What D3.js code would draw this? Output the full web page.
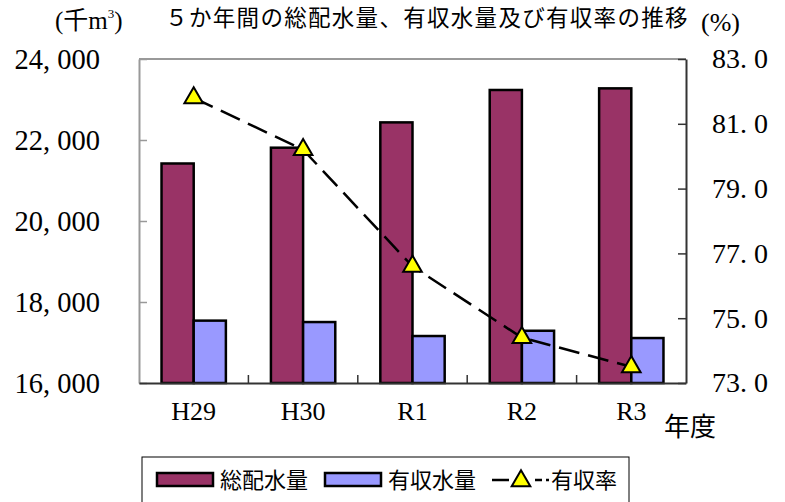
<!DOCTYPE html>
<html>
<head>
<meta charset="utf-8">
<script src="https://cdn.jsdelivr.net/npm/d3@7"></script>
<style>
  body { margin: 0; background: #fff; }
</style>
</head>
<body>
<svg id="chart"></svg>
<script>
const years = ["H29", "H30", "R1", "R2", "R3"];
// 総配水量 (千m3)
const totalWater = [21420, 21810, 22435, 23235, 23275];
// 有収水量 (千m3)
const billedWater = [17540, 17505, 17160, 17290, 17110];
// 有収率 (%)
const billedRate = [81.8, 80.2, 76.6, 74.4, 73.5];
const leftTicks = [16000, 18000, 20000, 22000, 24000];
const rightTicks = [73, 75, 77, 79, 81, 83];

const width = 785, height = 502;
const margin = { top: 59, right: 99, bottom: 119, left: 139 };
const maroon = "#993366", lilac = "#9999ff";
const serif = "'Liberation Serif', 'DejaVu Serif', serif";
const jp = "'Noto Sans CJK JP', sans-serif";

const svg = d3.select("#chart").attr("width", width).attr("height", height);

const x = d3.scaleBand().domain(years)
    .range([margin.left, width - margin.right]);
const xSub = d3.scaleBand().domain(["total", "billed"])
    .range([0, x.bandwidth()]).paddingInner(0).paddingOuter(0.7);
const yL = d3.scaleLinear().domain([16000, 24000])
    .range([height - margin.bottom, margin.top]);
const yR = d3.scaleLinear().domain([73, 83])
    .range([height - margin.bottom, margin.top]);

const fmtL = d => d3.format(",")(d).replace(",", ", ");
const fmtR = d => d3.format(".1f")(d).replace(".", ". ");

// top border
svg.append("line")
    .attr("x1", margin.left).attr("x2", width - margin.right)
    .attr("y1", margin.top).attr("y2", margin.top)
    .attr("stroke", "#999").attr("stroke-width", 2);

// left axis
svg.append("g")
    .attr("transform", `translate(${margin.left},0)`)
    .call(d3.axisLeft(yL).tickValues(leftTicks).tickFormat(fmtL)
        .tickSizeInner(-8).tickSizeOuter(0).tickPadding(39))
    .call(g => g.select(".domain").attr("stroke", "#999").attr("stroke-width", 2))
    .call(g => g.selectAll(".tick line").attr("stroke", "#999").attr("stroke-width", 1.5))
    .call(g => g.selectAll(".tick text").attr("font-family", serif)
        .attr("font-size", 28.5).attr("fill", "#000"));

// right axis
svg.append("g")
    .attr("transform", `translate(${width - margin.right},0)`)
    .call(d3.axisRight(yR).tickValues(rightTicks).tickFormat(fmtR)
        .tickSizeInner(-8).tickSizeOuter(0).tickPadding(26))
    .call(g => g.select(".domain").attr("stroke", "#333").attr("stroke-width", 2))
    .call(g => g.selectAll(".tick line").attr("stroke", "#333").attr("stroke-width", 1.5))
    .call(g => g.selectAll(".tick text").attr("font-family", serif)
        .attr("font-size", 28).attr("fill", "#000"));

// bars
const groups = svg.append("g").selectAll("g")
    .data(years)
    .join("g")
    .attr("transform", d => `translate(${x(d)},0)`);

groups.append("rect")
    .attr("x", xSub("total"))
    .attr("width", xSub.bandwidth())
    .attr("y", (d, i) => yL(totalWater[i]))
    .attr("height", (d, i) => yL(16000) - yL(totalWater[i]))
    .attr("fill", maroon).attr("stroke", "#000").attr("stroke-width", 2.5);

groups.append("rect")
    .attr("x", xSub("billed"))
    .attr("width", xSub.bandwidth())
    .attr("y", (d, i) => yL(billedWater[i]))
    .attr("height", (d, i) => yL(16000) - yL(billedWater[i]))
    .attr("fill", lilac).attr("stroke", "#000").attr("stroke-width", 2.5);

// bottom axis
const bottom = svg.append("g")
    .attr("transform", `translate(0,${height - margin.bottom})`)
    .call(d3.axisBottom(x).tickSize(0).tickPadding(19))
    .call(g => g.select(".domain").attr("stroke", "#333").attr("stroke-width", 2))
    .call(g => g.selectAll(".tick text").attr("font-family", serif)
        .attr("font-size", 26).attr("fill", "#000"));

bottom.selectAll(".sep")
    .data(years.slice(1))
    .join("line")
    .attr("x1", d => x(d)).attr("x2", d => x(d))
    .attr("y1", 0).attr("y2", -8)
    .attr("stroke", "#333").attr("stroke-width", 1.5);

// rate line
const line = d3.line()
    .x((d, i) => x(years[i]) + x.bandwidth() / 2)
    .y(d => yR(d));

svg.append("path")
    .datum(billedRate)
    .attr("d", line)
    .attr("fill", "none")
    .attr("stroke", "#000")
    .attr("stroke-width", 2.5)
    .attr("stroke-dasharray", "21,9");

const tri = d3.symbol(d3.symbolTriangle).size(150);
svg.append("g").selectAll("path")
    .data(billedRate)
    .join("path")
    .attr("d", tri)
    .attr("transform", (d, i) => `translate(${x(years[i]) + x.bandwidth() / 2},${yR(d)})`)
    .attr("fill", "#ffff00").attr("stroke", "#000").attr("stroke-width", 2);

// titles
svg.append("text")
    .attr("font-family", jp)
    .attr("x", 427).attr("y", 26).attr("text-anchor", "middle")
    .attr("font-size", 22.5).attr("letter-spacing", 1.3)
    .text("５か年間の総配水量、有収水量及び有収率の推移");

const unit = svg.append("text")
    .attr("x", 55).attr("y", 29).attr("font-size", 25);
unit.append("tspan").attr("font-family", serif).text("(");
unit.append("tspan").attr("font-family", jp).text("千");
unit.append("tspan").attr("font-family", serif).text("m");
unit.append("tspan").attr("font-family", serif).attr("font-size", 13)
    .attr("dy", -11).text("3");
unit.append("tspan").attr("font-family", serif).attr("dy", 11).text(")");

svg.append("text")
    .attr("font-family", serif)
    .attr("x", 701).attr("y", 31).attr("font-size", 26)
    .text("(%)");

svg.append("text")
    .attr("font-family", jp)
    .attr("x", 664).attr("y", 436).attr("font-size", 26)
    .text("年度");

// legend
const legend = svg.append("g");
legend.append("rect")
    .attr("x", 142).attr("y", 457).attr("width", 487).attr("height", 60)
    .attr("fill", "#fff").attr("stroke", "#000").attr("stroke-width", 1);

const legendItems = [
    { label: "総配水量", fill: maroon, x: 157 },
    { label: "有収水量", fill: lilac, x: 325 }
];
legendItems.forEach(it => {
    legend.append("rect")
        .attr("x", it.x).attr("y", 473).attr("width", 56).attr("height", 13)
        .attr("fill", it.fill).attr("stroke", "#000").attr("stroke-width", 2.5);
    legend.append("text")
        .attr("font-family", jp)
        .attr("x", it.x + 63).attr("y", 488).attr("font-size", 22)
        .text(it.label);
});

legend.append("line")
    .attr("x1", 492).attr("x2", 549).attr("y1", 480).attr("y2", 480)
    .attr("stroke", "#000").attr("stroke-width", 2.5)
    .attr("stroke-dasharray", "17,26,7,4");
legend.append("path")
    .attr("d", tri)
    .attr("transform", "translate(521,481)")
    .attr("fill", "#ffff00").attr("stroke", "#000").attr("stroke-width", 2);
legend.append("text")
    .attr("font-family", jp)
    .attr("x", 551).attr("y", 488).attr("font-size", 22)
    .text("有収率");
</script>
</body>
</html>
